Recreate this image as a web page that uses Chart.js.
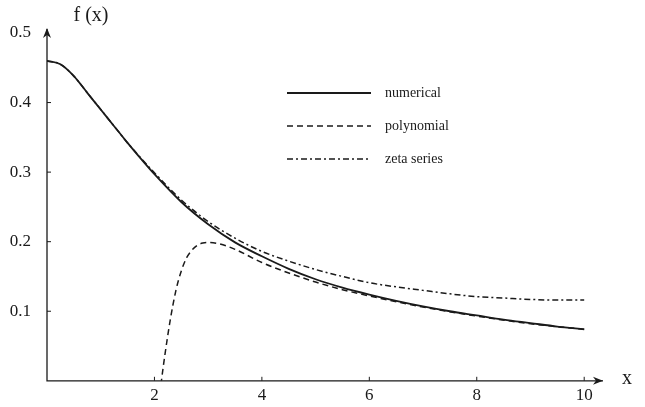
<!DOCTYPE html>
<html>
<head>
<meta charset="utf-8">
<script src="https://cdn.jsdelivr.net/npm/chart.js@4.4.1/dist/chart.umd.min.js"></script>
<style>
  html, body { margin: 0; padding: 0; background: #fff; }
  #wrap { width: 645px; height: 407px; position: relative; }
</style>
</head>
<body>
<div id="wrap"><canvas id="chart"></canvas></div>
<script>
// Data
const numericalX = [0, 0.25, 0.5, 0.75, 1, 1.25, 1.5, 1.75, 2, 2.5, 3, 3.5, 4, 4.5, 5, 5.5, 6, 6.5, 7, 7.5, 8, 8.5, 9, 9.5, 10];
const numericalY = [0.46, 0.455, 0.438, 0.414, 0.39, 0.366, 0.342, 0.319, 0.297, 0.257, 0.225, 0.199, 0.179, 0.161, 0.146, 0.134, 0.124, 0.115, 0.107, 0.1, 0.094, 0.088, 0.083, 0.078, 0.074];

const polynomialX = [2.1, 2.13, 2.2, 2.3, 2.4, 2.5, 2.6, 2.7, 2.8, 2.9, 3, 3.2, 3.5, 4, 4.5, 5, 5.5, 6, 7, 8, 9, 10];
const polynomialY = [-0.02, 0, 0.04, 0.09, 0.13, 0.158, 0.177, 0.188, 0.195, 0.198, 0.199, 0.197, 0.189, 0.17, 0.155, 0.142, 0.131, 0.122, 0.106, 0.093, 0.082, 0.074];

const zetaX = [0, 0.25, 0.5, 0.75, 1, 1.25, 1.5, 1.75, 2, 2.5, 3, 3.5, 4, 4.5, 5, 5.5, 6, 6.5, 7, 7.5, 8, 8.5, 9, 9.5, 10];
const zetaY = [0.46, 0.455, 0.438, 0.414, 0.39, 0.366, 0.342, 0.32, 0.299, 0.26, 0.229, 0.205, 0.186, 0.172, 0.16, 0.15, 0.141, 0.135, 0.13, 0.125, 0.121, 0.119, 0.117, 0.116, 0.116];

const seriesLabels = ['numerical', 'polynomial', 'zeta series'];
const xTickValues = [2, 4, 6, 8, 10];
const yTickValues = [0.1, 0.2, 0.3, 0.4, 0.5];

const serif = "'Liberation Serif', 'DejaVu Serif', serif";
const ink = '#1a1a1a';

function toPoints(xs, ys) {
  return xs.map((x, i) => ({ x: x, y: ys[i] }));
}

// Axes with arrows, inward tick marks, axis titles and the legend
const decorations = {
  id: 'decorations',
  afterDraw(chart) {
    const ctx = chart.ctx;
    const area = chart.chartArea;
    const xs = chart.scales.x;
    const ys = chart.scales.y;
    ctx.save();
    ctx.strokeStyle = ink;
    ctx.fillStyle = ink;
    ctx.lineWidth = 1.3;

    // axis lines
    ctx.beginPath();
    ctx.moveTo(area.left, area.top - 4);
    ctx.lineTo(area.left, area.bottom);
    ctx.lineTo(area.right, area.bottom);
    ctx.stroke();

    // arrow heads
    ctx.beginPath();
    ctx.moveTo(area.left - 4, area.top + 5);
    ctx.lineTo(area.left, area.top - 5);
    ctx.lineTo(area.left + 4, area.top + 5);
    ctx.lineTo(area.left, area.top + 2);
    ctx.closePath();
    ctx.fill();
    ctx.beginPath();
    ctx.moveTo(area.right - 10, area.bottom - 4);
    ctx.lineTo(area.right, area.bottom);
    ctx.lineTo(area.right - 10, area.bottom + 4);
    ctx.lineTo(area.right - 7, area.bottom);
    ctx.closePath();
    ctx.fill();

    // tick marks
    ctx.lineWidth = 1;
    xTickValues.forEach(v => {
      const px = xs.getPixelForValue(v);
      ctx.beginPath();
      ctx.moveTo(px, area.bottom);
      ctx.lineTo(px, area.bottom - 4);
      ctx.stroke();
    });
    yTickValues.forEach(v => {
      if (v >= 0.5) return;
      const py = ys.getPixelForValue(v);
      ctx.beginPath();
      ctx.moveTo(area.left, py);
      ctx.lineTo(area.left + 4, py);
      ctx.stroke();
    });

    // axis titles
    ctx.font = '20px ' + serif;
    ctx.textAlign = 'center';
    ctx.textBaseline = 'middle';
    ctx.fillText('f (x)', 91, 16);
    ctx.fillText('x', 627, area.bottom - 2);

    // legend
    const legX = 287, legW = 84, legTop = 93, legStep = 33;
    chart.data.datasets.forEach((ds, i) => {
      const y = legTop + i * legStep;
      ctx.setLineDash(ds.borderDash || []);
      ctx.lineWidth = ds.borderWidth;
      ctx.beginPath();
      ctx.moveTo(legX, y);
      ctx.lineTo(legX + legW, y);
      ctx.stroke();
      ctx.setLineDash([]);
      ctx.font = '14px ' + serif;
      ctx.textAlign = 'left';
      ctx.fillText(ds.label, legX + 98, y);
    });
    ctx.restore();
  }
};

const ctx = document.getElementById('chart');
new Chart(ctx, {
  type: 'scatter',
  data: {
    datasets: [
      {
        label: seriesLabels[0],
        data: toPoints(numericalX, numericalY),
        showLine: true,
        borderColor: ink,
        borderWidth: 1.8,
        pointRadius: 0,
        cubicInterpolationMode: 'monotone'
      },
      {
        label: seriesLabels[1],
        data: toPoints(polynomialX, polynomialY),
        showLine: true,
        borderColor: ink,
        borderWidth: 1.5,
        borderDash: [6, 4],
        pointRadius: 0,
        cubicInterpolationMode: 'monotone'
      },
      {
        label: seriesLabels[2],
        data: toPoints(zetaX, zetaY),
        showLine: true,
        borderColor: ink,
        borderWidth: 1.5,
        borderDash: [6, 3, 2, 3],
        pointRadius: 0,
        cubicInterpolationMode: 'monotone'
      }
    ]
  },
  options: {
    responsive: true,
    maintainAspectRatio: false,
    animation: false,
    layout: { padding: { top: 33, right: 42, left: 0, bottom: 0 } },
    plugins: {
      legend: { display: false },
      tooltip: { enabled: false }
    },
    scales: {
      x: {
        type: 'linear',
        min: 0,
        max: 10.35,
        afterBuildTicks: scale => { scale.ticks = xTickValues.map(v => ({ value: v })); },
        afterFit: scale => { scale.height = 25; },
        grid: { display: false, drawTicks: false },
        border: { display: false },
        ticks: {
          padding: 5,
          color: ink,
          maxRotation: 0,
          font: { family: serif, size: 17 }
        }
      },
      y: {
        type: 'linear',
        min: 0,
        max: 0.5,
        afterBuildTicks: scale => { scale.ticks = yTickValues.map(v => ({ value: v })); },
        afterFit: scale => { scale.width = 47; },
        grid: { display: false, drawTicks: false },
        border: { display: false },
        ticks: {
          padding: 16,
          color: ink,
          font: { family: serif, size: 17 },
          callback: v => v.toFixed(1)
        }
      }
    }
  },
  plugins: [decorations]
});
</script>
</body>
</html>
